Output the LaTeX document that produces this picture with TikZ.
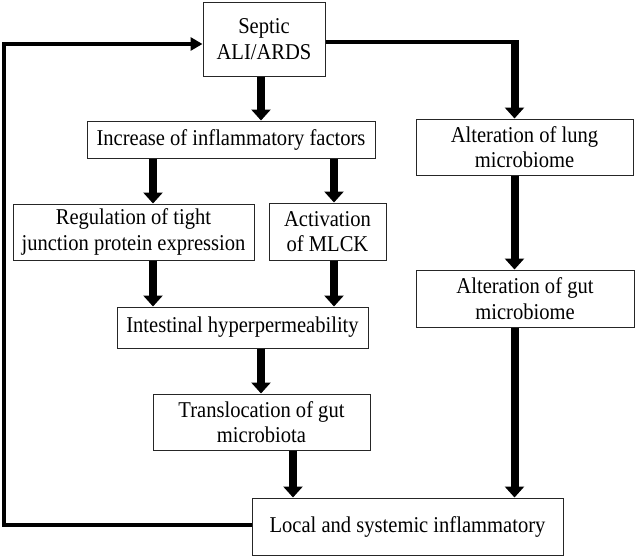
\documentclass[tikz,border=0pt]{standalone}
\usepackage{fontspec}
\setmainfont[FakeStretch=0.91]{Liberation Serif}
\usetikzlibrary{arrows.meta}
\begin{document}
\begin{tikzpicture}[x=1pt,y=-1pt,
  box/.style={draw=black!85,line width=1pt,align=center,inner sep=0pt,
    font=\fontsize{22.6}{25.5}\selectfont},
  bigarrow/.style={line width=8pt,-{Triangle[width=19pt,length=11pt]}},
  thinline/.style={line width=4pt,line join=miter},
  thinarrow/.style={line width=4pt,line join=miter,-{Triangle[width=13pt,length=12pt]}}]
\useasboundingbox (0,0) rectangle (636,557);
\node[box,minimum width=122pt,minimum height=74pt] (septic) at (264,39) {Septic\\ALI/ARDS};
\node[box,minimum width=288pt,minimum height=37pt] (increase) at (231,139.5) {Increase of inflammatory factors};
\node[box,minimum width=217pt,minimum height=56pt] (lung) at (524.5,147) {Alteration of lung\\microbiome};
\node[box,minimum width=241pt,minimum height=56pt] (regulation) at (133.5,232) {Regulation of tight\\junction protein expression};
\node[box,minimum width=117pt,minimum height=57pt] (mlck) at (327.5,231.5) {Activation\\of MLCK};
\node[box,minimum width=218pt,minimum height=57pt] (gut) at (525,298.5) {Alteration of gut\\microbiome};
\node[box,minimum width=251pt,minimum height=41pt] (intestinal) at (242.5,327.5) {Intestinal hyperpermeability};
\node[box,minimum width=217pt,minimum height=56pt] (trans) at (261.5,422) {Translocation of gut\\microbiota};
\node[box,minimum width=311pt,minimum height=57pt] (local) at (407.5,526.5) {Local and systemic inflammatory};
% x positions of arrows
\coordinate (xa) at (261,0);
\coordinate (xb) at (153,0);
\coordinate (xc) at (334,0);
\coordinate (xd) at (293,0);
\coordinate (xe) at (514.5,0);
% right branch
\coordinate (rc) at (514.5,42);
\coordinate (rt) at (514.5,40);
\draw[thinline] (septic.east |- rc) -- ([xshift=4pt]rc);
\draw[bigarrow] (rt) -- (lung.north -| rt);
% main column
\draw[bigarrow] (septic.south -| xa) -- (increase.north -| xa);
\draw[bigarrow] (increase.south -| xb) -- (regulation.north -| xb);
\draw[bigarrow] (increase.south -| xc) -- (mlck.north -| xc);
\draw[bigarrow] (regulation.south -| xb) -- (intestinal.north -| xb);
\draw[bigarrow] (mlck.south -| xc) -- (intestinal.north -| xc);
\draw[bigarrow] (intestinal.south -| xa) -- (trans.north -| xa);
\draw[bigarrow] (trans.south -| xd) -- (local.north -| xd);
\draw[bigarrow] (lung.south -| xe) -- (gut.north -| xe);
\draw[bigarrow] (gut.south -| xe) -- (local.north -| xe);
% feedback loop
\coordinate (lc) at (4,525);
\coordinate (tc) at (4,44);
\draw[thinarrow] (local.west |- lc) -- (lc) -- (tc) -- (septic.west |- tc);
\end{tikzpicture}
\end{document}
